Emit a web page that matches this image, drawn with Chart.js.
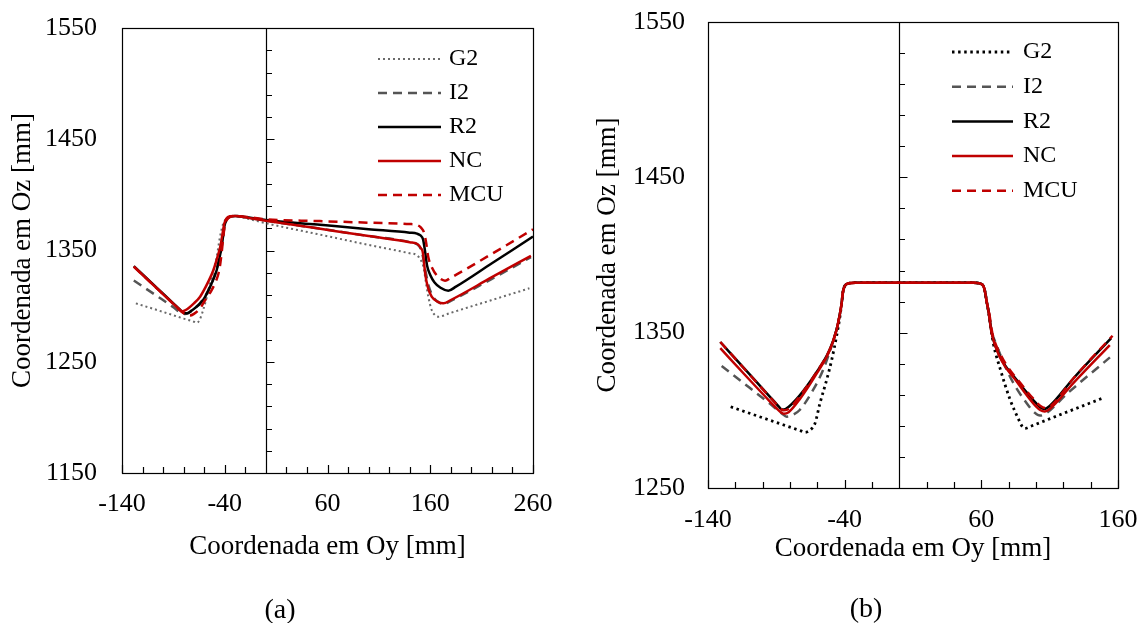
<!DOCTYPE html>
<html><head><meta charset="utf-8">
<script src="https://cdn.jsdelivr.net/npm/chart.js@4"></script>
<style>
html,body{margin:0;padding:0;background:#fff;}
#wrap{position:relative;width:1147px;height:623px;overflow:hidden;background:#fff;}
#ca{position:absolute;left:0;top:0;}
#cb{position:absolute;left:570px;top:0;}
</style></head><body>
<div id="wrap"><canvas id="ca" width="570" height="623"></canvas><canvas id="cb" width="577" height="623"></canvas></div>
<script>
// ---------- data ----------
const seriesNames = ['G2','I2','R2','NC','MCU'];
const xTitle = 'Coordenada em Oy [mm]';
const yTitle = 'Coordenada em Oz [mm]';

const xTicksA = [-140,-40,60,160,260];
const yTicksA = [1150,1250,1350,1450,1550];
const xTicksB = [-140,-40,60,160];
const yTicksB = [1250,1350,1450,1550];

// chart (a)
const a_G2 = [[-126.5,1302.5],[-100,1294.8],[-80,1288.8],[-70,1286],[-67.5,1285],[-64.5,1287.5],[-61,1296.5],[-57.5,1308],[-54.4,1320.5],[-51,1332],[-47.8,1344.4],[-44.6,1362.4],[-41.4,1374.4],[-38.5,1378.5],[-35,1380.5],[-30,1380.8],[-15,1378],[0,1374.5],[50,1364.8],[100,1355],[140,1347.5],[147,1345.8],[151,1341],[153.3,1335.5],[156,1320],[158.1,1308.5],[161.4,1296.5],[164.5,1292],[167.8,1290.5],[180,1294],[220,1305.5],[256.5,1316]];
const a_I2 = [[-128.5,1323],[-105,1308.5],[-90,1299],[-83.6,1294.5],[-79,1293],[-75,1294],[-70,1297.5],[-62,1305],[-54,1318],[-49,1330],[-46,1340],[-43.5,1352],[-41.5,1364],[-40,1373],[-38,1378],[-34,1380.5],[-30,1381],[-15,1379],[0,1376.8],[50,1370],[100,1363],[140,1357.5],[148,1355],[151,1351],[153,1344],[155.5,1331],[158.5,1318],[163,1308],[168,1303.5],[173.5,1302],[180,1304.8],[220,1324.5],[258,1344]];
const a_R2 = [[-128.5,1336],[-105,1315.5],[-90,1302.5],[-84,1297.2],[-80,1294],[-77,1293.5],[-73,1295.5],[-61,1305.5],[-53,1320],[-47.8,1332.5],[-45,1344],[-43,1353.4],[-41.5,1364],[-40.3,1372],[-38.5,1377.5],[-35,1380.5],[-30,1381],[-15,1379.5],[0,1377.4],[50,1373.3],[100,1369.2],[140,1366],[147,1365.2],[150.5,1363.5],[153,1360],[155,1349],[157,1336],[160,1328],[164,1321.5],[170,1316.5],[177.6,1313.9],[185,1317.5],[220,1338.5],[260,1362.5]];
const a_NC = [[-128.5,1335.5],[-105,1315],[-90,1302],[-84,1297],[-81.5,1295.3],[-78,1296.5],[-70,1302.5],[-64,1308.5],[-56,1322],[-51,1332.5],[-46.5,1346],[-44,1355],[-42,1366],[-40.5,1374],[-38.5,1378.5],[-35,1380.7],[-30,1381],[-15,1379],[0,1376.8],[50,1369.9],[100,1363],[140,1357.5],[148,1355.5],[151,1352],[152.6,1349],[155.5,1326.5],[158,1316],[161.4,1308.5],[167,1304],[172.7,1302.5],[180,1305.5],[220,1326],[258,1345.2]];
const a_MCU = [[-128.5,1335.5],[-105,1315],[-90,1302],[-84,1296.5],[-78,1292.5],[-74,1291.5],[-70,1293],[-64,1298],[-59,1305.5],[-53,1314],[-49.5,1320.5],[-46.5,1328],[-45,1334],[-43,1348],[-41.4,1362.4],[-40,1372],[-38,1377.5],[-34,1380.5],[-30,1381],[-15,1379.8],[0,1378],[50,1376.5],[100,1375],[140,1373.8],[147,1373],[151,1370.5],[154,1366],[156,1357],[158,1344.4],[162,1334],[167,1327],[174.4,1322.9],[180,1325.5],[220,1347],[260,1369]];

// chart (b)
const b_G2 = [[-123.4,1302.3],[-100,1295.2],[-80,1289.2],[-72,1286.8],[-69,1285.8],[-65,1287.5],[-61.7,1291.6],[-58.1,1304.5],[-53.2,1319.5],[-49.5,1332.4],[-46,1347.4],[-43.5,1360],[-42.2,1369],[-41.2,1376.5],[-40,1380],[-37,1381.8],[-32,1382.2],[0,1382.2],[54,1382.2],[58.5,1381.8],[61.5,1380],[62.7,1376.4],[64,1369.5],[65.5,1362],[68.8,1343],[73.7,1327],[81,1307],[87.1,1294.5],[90,1289.5],[92,1288.4],[96,1289.7],[120,1298],[149.2,1308]];
const b_I2 = [[-130,1328.5],[-110,1314.8],[-95,1304.5],[-86,1298],[-82.4,1295.9],[-78,1297],[-72.9,1300.2],[-63.1,1313.1],[-55.8,1326],[-49.7,1341],[-46,1352],[-43.5,1362],[-42.2,1369],[-41.2,1376.5],[-40,1380],[-37,1381.8],[-32,1382.2],[0,1382.2],[54,1382.2],[58.5,1381.8],[61.5,1380],[62.7,1376.4],[64,1369.5],[65.1,1364.6],[67.6,1350.5],[70,1344.5],[81,1321.6],[93.2,1304.5],[99,1298.5],[102.9,1296.6],[107,1297.8],[122.5,1310.5],[154.1,1334.1]];
const b_R2 = [[-131,1344],[-110,1323.6],[-95,1309],[-90,1304.2],[-88,1302.2],[-86,1300.5],[-83,1301],[-73,1309.5],[-61,1324],[-51,1339],[-46,1351.7],[-43.5,1362],[-42.2,1369],[-41.2,1376.5],[-40,1380],[-37,1381.8],[-32,1382.2],[0,1382.2],[54,1382.2],[58.5,1381.8],[61.5,1380],[62.7,1376.4],[64,1369.5],[65.1,1364.6],[67.6,1349.6],[73.7,1334.5],[85.9,1319.5],[98,1306.6],[103,1302],[106,1300.8],[110,1302.8],[127.3,1320.5],[155,1346.5]];
const b_NC = [[-131,1340],[-110,1320],[-95,1306],[-90,1301.5],[-87,1299],[-84.5,1297.8],[-81,1298.8],[-73,1307],[-61,1323],[-51,1338.5],[-46,1351.5],[-43.5,1362],[-42.2,1369],[-41.2,1376.5],[-40,1380],[-37,1381.8],[-32,1382.2],[0,1382.2],[54,1382.2],[58.5,1381.8],[61.5,1380],[62.7,1376.4],[64,1369.5],[65.1,1364.6],[67.6,1349.6],[73.7,1334],[85.9,1318.5],[98,1304.5],[103,1300.2],[106.5,1299.2],[110,1300.8],[127.3,1317.5],[154,1342]];
const b_MCU = [[-131,1344],[-110,1323.4],[-95,1308.8],[-90,1304],[-87,1301.2],[-85,1300],[-82,1300.4],[-73,1309],[-61,1324],[-51,1339],[-46,1351.7],[-43.5,1362],[-42.2,1369],[-41.2,1376.5],[-40,1380],[-37,1381.8],[-32,1382.2],[0,1382.2],[54,1382.2],[58.5,1381.8],[61.5,1380],[62.7,1376.4],[64,1369.5],[65.5,1364],[68,1350],[74,1336],[90.7,1315.2],[98,1307.5],[103,1303],[107,1301.5],[111,1303],[127.3,1320.5],[156,1348]];

// ---------- styles ----------
const FONT = '"Liberation Serif", "Times New Roman", serif';
const RED = '#C00000';
const styleA = {
  G2:  {color:'#6a6a6a', width:2,   dash:[2,3],  order:4},
  I2:  {color:'#555555', width:2.5, dash:[9,6],  order:3},
  R2:  {color:'#000000', width:2.5, dash:[],     order:2},
  NC:  {color:RED,       width:2.5, dash:[],     order:0},
  MCU: {color:RED,       width:2.5, dash:[9,6],  order:1}
};
const styleB = {
  G2:  {color:'#000000', width:2.8, dash:[2.5,3.6], order:4},
  I2:  {color:'#555555', width:2.5, dash:[9,6],  order:3},
  R2:  {color:'#000000', width:2.5, dash:[],     order:2},
  NC:  {color:RED,       width:2.5, dash:[],     order:0},
  MCU: {color:RED,       width:2.5, dash:[9,6],  order:1}
};

const framePlugin = {
  id: 'frame',
  beforeDatasetsDraw(chart) {
    const o = chart.options.plugins.frame;
    const {ctx, chartArea, scales} = chart;
    const {left, right, top, bottom} = chartArea;
    const xs = scales.x, ys = scales.y;
    ctx.save();
    ctx.strokeStyle = '#000';
    ctx.lineWidth = 1.2;
    ctx.setLineDash([]);
    const x0 = Math.round(xs.getPixelForValue(0)) + 0.5;
    ctx.beginPath();
    ctx.moveTo(x0, top); ctx.lineTo(x0, bottom);
    for (let v = ys.min; v <= ys.max + 1e-6; v += o.yMinor) {
      const py = Math.round(ys.getPixelForValue(v)) + 0.5;
      const len = (Math.abs((v - ys.min) % o.yMajor) < 1e-6) ? 8 : 5.5;
      ctx.moveTo(x0, py); ctx.lineTo(x0 + len, py);
    }
    for (let v = xs.min; v <= xs.max + 1e-6; v += o.xMinor) {
      const px = Math.round(xs.getPixelForValue(v)) + 0.5;
      const len = (Math.abs((v - xs.min) % o.xMajor) < 1e-6) ? 8 : 6;
      ctx.moveTo(px, bottom); ctx.lineTo(px, bottom - len);
    }
    ctx.stroke();
    ctx.strokeRect(Math.round(left) + 0.5, Math.round(top) + 0.5, Math.round(right - left), Math.round(bottom - top));
    ctx.restore();
  },
  afterDraw(chart) {
    const o = chart.options.plugins.frame;
    const ctx = chart.ctx;
    ctx.save();
    seriesNames.forEach((n, i) => {
      const ds = chart.data.datasets.find(d => d.label === n);
      const yy = o.legY0 + i * o.legDy;
      ctx.beginPath();
      ctx.setLineDash(ds.borderDash);
      ctx.strokeStyle = ds.borderColor;
      ctx.lineWidth = ds.borderWidth;
      ctx.moveTo(o.legX0, yy); ctx.lineTo(o.legX1, yy);
      ctx.stroke();
      ctx.setLineDash([]);
      ctx.fillStyle = '#000';
      ctx.font = '24px ' + FONT;
      ctx.textAlign = 'left';
      ctx.textBaseline = 'middle';
      ctx.fillText(n, o.legTx, yy);
    });
    ctx.font = '28px ' + FONT;
    ctx.textAlign = 'center';
    ctx.textBaseline = 'alphabetic';
    ctx.fillStyle = '#000';
    ctx.fillText(o.caption, o.capX, o.capY);
    ctx.restore();
  }
};

function zeroPad(s) { s.paddingTop = 0; s.paddingBottom = 0; s.paddingLeft = 0; s.paddingRight = 0; }

function makeChart(id, data, style, cfg) {
  const datasets = seriesNames.map(n => ({
    label: n,
    data: data[n].map(([x, y]) => ({x, y})),
    borderColor: style[n].color,
    borderWidth: style[n].width,
    borderDash: style[n].dash,
    order: style[n].order,
    pointRadius: 0,
    fill: false,
    cubicInterpolationMode: 'monotone'
  }));
  return new Chart(document.getElementById(id), {
    type: 'line',
    data: {datasets},
    plugins: [framePlugin],
    options: {
      responsive: false,
      animation: false,
      devicePixelRatio: 1,
      layout: {padding: {left: 0, top: cfg.top, right: cfg.right, bottom: 0}},
      plugins: {
        legend: {display: false},
        tooltip: {enabled: false},
        frame: cfg.frame
      },
      scales: {
        x: {
          type: 'linear', min: cfg.xTicks[0], max: cfg.xTicks[cfg.xTicks.length - 1],
          afterBuildTicks: s => { s.ticks = cfg.xTicks.map(v => ({value: v})); },
          afterFit: s => { s.height = cfg.xHeight; zeroPad(s); },
          grid: {display: false, drawTicks: false},
          border: {display: false},
          ticks: {font: {family: FONT, size: 26}, color: '#000', padding: cfg.xTickPad, maxRotation: 0, minRotation: 0, autoSkip: false, callback: v => String(v)},
          title: {display: true, text: xTitle, color: '#000', font: {family: FONT, size: 27}, padding: {top: 0, bottom: cfg.xTitlePad}}
        },
        y: {
          type: 'linear', min: cfg.yTicks[0], max: cfg.yTicks[cfg.yTicks.length - 1],
          afterBuildTicks: s => { s.ticks = cfg.yTicks.map(v => ({value: v})); },
          afterFit: s => { s.width = cfg.yWidth; zeroPad(s); },
          grid: {display: false, drawTicks: false},
          border: {display: false},
          ticks: {font: {family: FONT, size: 26}, color: '#000', padding: cfg.yTickPad, callback: v => String(v)},
          title: {display: true, text: yTitle, color: '#000', font: {family: FONT, size: 27}, padding: {top: cfg.yTitlePad, bottom: 0}}
        }
      }
    }
  });
}

makeChart('ca', {G2: a_G2, I2: a_I2, R2: a_R2, NC: a_NC, MCU: a_MCU}, styleA, {
  top: 28, right: 37, xHeight: 150, yWidth: 122,
  xTicks: xTicksA, yTicks: yTicksA,
  xTickPad: 16, yTickPad: 25, xTitlePad: 60, yTitlePad: 7,
  frame: {xMinor: 20, xMajor: 100, yMinor: 20, yMajor: 100,
          legX0: 378, legX1: 441, legTx: 449, legY0: 59, legDy: 34,
          caption: '(a)', capX: 280, capY: 618}
});

makeChart('cb', {G2: b_G2, I2: b_I2, R2: b_R2, NC: b_NC, MCU: b_MCU}, styleB, {
  top: 22, right: 29, xHeight: 135, yWidth: 138,
  xTicks: xTicksB, yTicks: yTicksB,
  xTickPad: 17, yTickPad: 23, xTitlePad: 58, yTitlePad: 22,
  frame: {xMinor: 20, xMajor: 100, yMinor: 20, yMajor: 100,
          legX0: 382, legX1: 443, legTx: 453, legY0: 52, legDy: 34.7,
          caption: '(b)', capX: 296, capY: 617}
});
</script>
</body></html>
